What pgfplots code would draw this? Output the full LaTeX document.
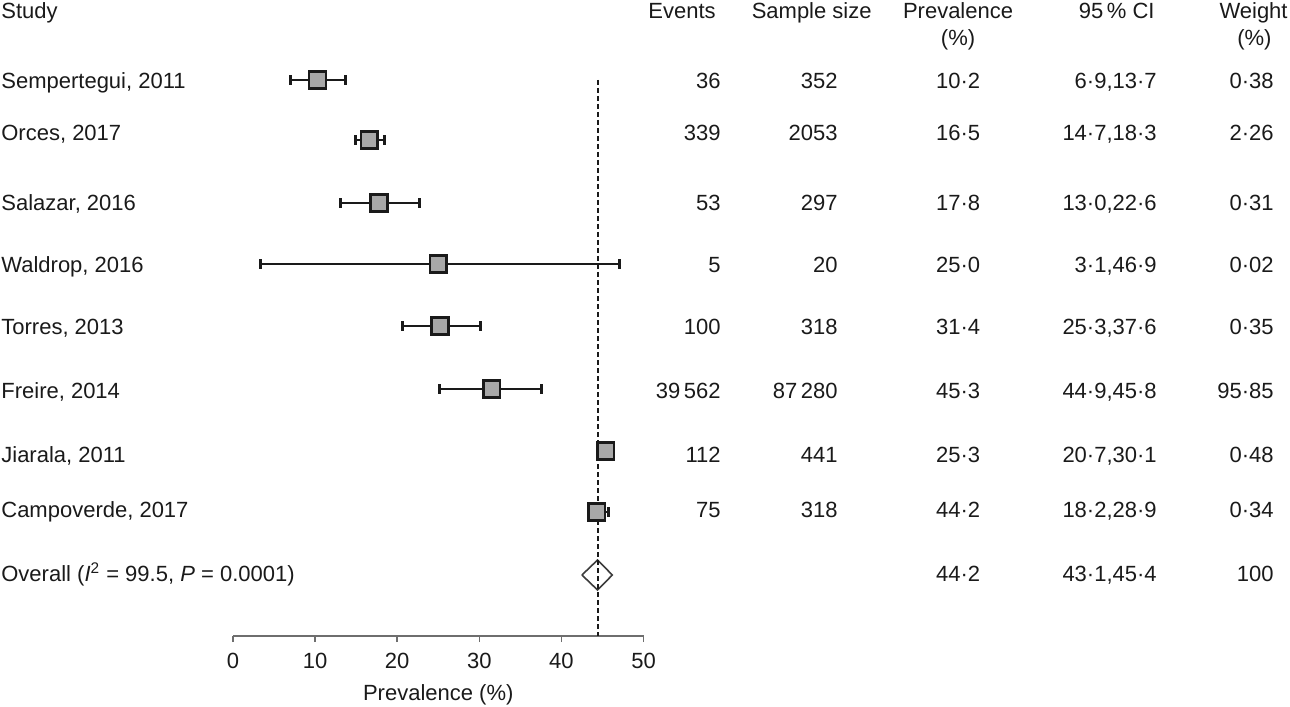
\documentclass[border=0pt]{standalone}
\usepackage{fontspec}
\setmainfont{Liberation Sans}
\usepackage{pgfplots}
\usepackage{pgfplotstable}
\pgfplotsset{compat=1.18}

\definecolor{ink}{HTML}{1A1A1A}
\definecolor{boxgray}{HTML}{A8A8A8}
\definecolor{axisgray}{HTML}{6E6E6E}

% estimate, row position, CI minus, CI plus (as drawn)
\pgfplotstableread{
est   row   em    ep
10.3  -80   3.35  3.4
16.6  -140  1.7   1.8
17.8  -203  4.7   4.9
25.0  -264  21.7  22.1
25.2  -326  4.5   5.0
31.5  -389  6.3   6.1
45.4  -451  0.4   0.5
44.3  -512  1.0   1.4
}\studies

% one line of the table: baseline, study, events, n, prevalence, CI, weight
\newcommand{\studyrow}[7]{%
  \node[anchor=base west] at (axis cs:-28.26,#1) {#2};
  \node[anchor=base east] at (axis cs:59.44,#1) {#3};
  \node[anchor=base east] at (axis cs:73.69,#1) {#4};
  \node[anchor=base] at (axis cs:88.31,#1) {#5};
  \node[anchor=base east] at (axis cs:112.55,#1) {#6};
  \node[anchor=base east] at (axis cs:126.8,#1) {#7};
}

\begin{document}
\begin{tikzpicture}[font=\fontsize{11}{13}\selectfont, every node/.style={inner sep=0pt, text=ink}]
\begin{axis}[
    x=4.105pt, y=0.5pt,
    xmin=0, xmax=50, ymin=-636, ymax=0,
    axis x line*=bottom, axis y line=none,
    xtick={0,10,...,50}, ytick=\empty,
    tick align=outside, major tick length=3pt,
    x axis line style={axisgray, line width=0.75pt},
    xtick style={axisgray, line width=0.75pt},
    xticklabel style={anchor=base, yshift=-13pt, inner sep=0pt},
    /pgf/number format/assume math mode=true,
    xlabel={Prevalence (\%)},
    xlabel style={at={(axis description cs:0.5,0)}, anchor=base, yshift=-32.3pt, inner sep=0pt},
    clip=false,
]

% confidence intervals
\addplot[draw=none, mark=none,
    error bars/.cd, x dir=both, x explicit,
    error mark=|,
    error bar style={ink, line width=1pt},
    error mark options={ink, line width=1.5pt, mark size=2.3pt}]
    table[x=est, y=row, x error minus=em, x error plus=ep] {\studies};

% study estimates
\addplot[only marks, mark=square*, mark size=4.2pt,
    mark options={fill=boxgray, draw=ink, line width=1.3pt}]
    table[x=est, y=row] {\studies};

% pooled estimate
\addplot[draw=ink!85, line width=0.8pt, fill=white, line join=miter, mark=none]
    coordinates {(42.5,-575) (44.4,-560) (46.2,-575) (44.4,-590) (42.5,-575)};

% reference line at the pooled prevalence
\addplot[ink, line width=1pt, dash pattern=on 2.5pt off 1.5pt, mark=none]
    coordinates {(44.4,-80) (44.4,-636)};

% column headers
\node[anchor=base west] at (axis cs:-28.26,-19) {Study};
\node[anchor=base east] at (axis cs:58.83,-19) {Events};
\node[anchor=base east] at (axis cs:77.83,-19) {Sample size};
\node[anchor=base] at (axis cs:88.31,-19) {Prevalence};
\node[anchor=base] at (axis cs:88.31,-46) {(\%)};
\node[anchor=base east] at (axis cs:112.3,-19) {95\,\% CI};
\node[anchor=base] at (axis cs:124.3,-19) {Weight};
\node[anchor=base] at (axis cs:124.4,-46) {(\%)};

\studyrow{-89}{Sempertegui, 2011}{36}{352}{10·2}{6·9,13·7}{0·38}
\studyrow{-141}{Orces, 2017}{339}{2053}{16·5}{14·7,18·3}{2·26}
\studyrow{-211}{Salazar, 2016}{53}{297}{17·8}{13·0,22·6}{0·31}
\studyrow{-272}{Waldrop, 2016}{5}{20}{25·0}{3·1,46·9}{0·02}
\studyrow{-334}{Torres, 2013}{100}{318}{31·4}{25·3,37·6}{0·35}
\studyrow{-398}{Freire, 2014}{39\,562}{87\,280}{45·3}{44·9,45·8}{95·85}
\studyrow{-462}{Jiarala, 2011}{112}{441}{25·3}{20·7,30·1}{0·48}
\studyrow{-517}{Campoverde, 2017}{75}{318}{44·2}{18·2,28·9}{0·34}
\studyrow{-581}{Overall (\textit{I}\textsuperscript{2} = 99.5, \textit{P} = 0.0001)}{}{}{44·2}{43·1,45·4}{100}

% picture frame, so the page keeps the reference's size
\path (axis cs:-28.38,0) rectangle (axis cs:128.74,-706);
\end{axis}
\end{tikzpicture}
\end{document}
